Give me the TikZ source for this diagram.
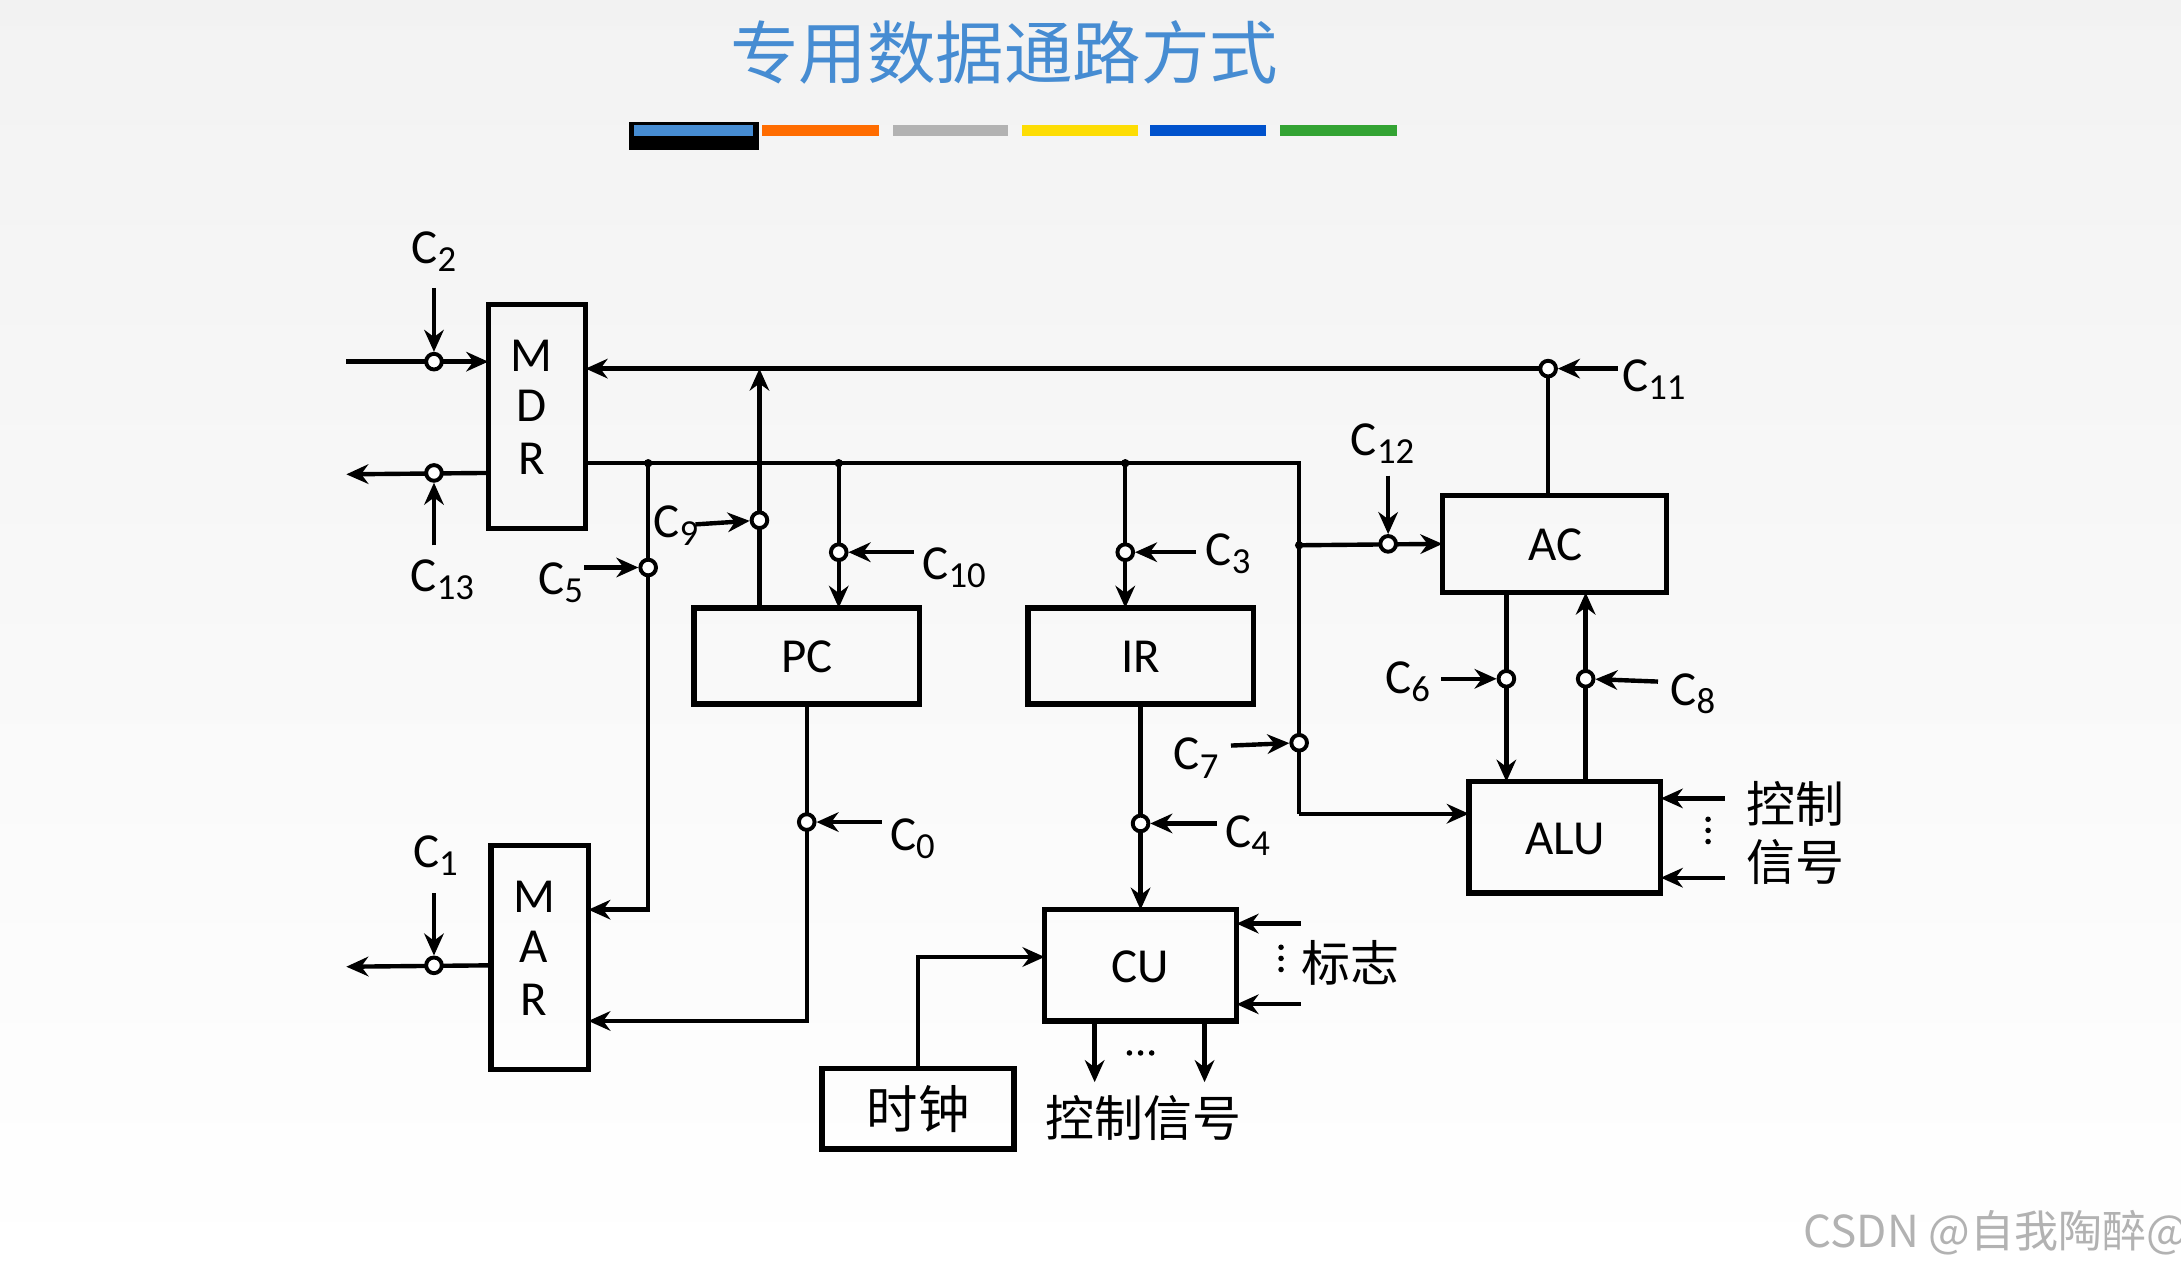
\documentclass[tikz,border=0pt]{standalone}
\usepackage{fontspec}
\setmainfont{Carlito}
\newfontfamily\cjk{Noto Sans CJK SC}
\usetikzlibrary{arrows.meta}
\newcommand\csub[1]{C\raisebox{-0.35ex}{\fontsize{7.5}{8}\selectfont #1}}
\definecolor{ttl}{RGB}{70,140,210}
\begin{document}
\begin{tikzpicture}[x=0.01cm,y=-0.01cm,
  ln/.style={line width=0.9pt},
  ar/.style={ln,-{Stealth[length=4.5pt,width=4pt]}},
  dot/.style={circle,draw,line width=0.8pt,fill=white,minimum size=3.2pt,inner sep=0pt},
  lab/.style={font=\fontsize{10}{12}\selectfont},
  zh/.style={font=\cjk\fontsize{10}{12}\selectfont}]
\useasboundingbox (0,0) rectangle (1568,914);
\shade[top color=gray!10,bottom color=white] (0,0) rectangle (1568,914);
\node[font=\cjk\fontsize{14}{17}\selectfont,text=ttl] (title) at (722,38) {专用数据通路方式};
\fill (452,88) rectangle (546,108); \fill[ttl] (456,90) rectangle (541,98);
\fill[orange!85!red] (548,90) rectangle (632,98);
\fill[gray!60] (642,90) rectangle (725,98);
\fill[yellow!80!orange] (735,90) rectangle (818,98);
\fill[blue!60!cyan!80!black] (827,90) rectangle (910,98);
\fill[green!55!black!80] (920,90) rectangle (1004,98);
% boxes
\draw[line width=1.1pt] (351,219) rectangle (421,380);
\node[lab] (mdr1) at (382,256){M}; \node[lab] at (382,292){D}; \node[lab] at (382,330){R};
\draw[line width=1.1pt] (353,608) rectangle (423,769);
\node[lab] (mar1) at (384,645){M}; \node[lab] at (384,681){A}; \node[lab] at (384,719){R};
\draw[line width=1.1pt] (499,437) rectangle (661,506); \node[lab] (pc) at (580,472){PC};
\draw[line width=1.1pt] (739,437) rectangle (901,506); \node[lab] (ir) at (820,472){IR};
\draw[line width=1.1pt] (1037,356) rectangle (1198,426); \node[lab] (ac) at (1118,392){AC};
\draw[line width=1.1pt] (1056,562) rectangle (1194,642); \node[lab] (alu) at (1125,603){ALU};
\draw[line width=1.1pt] (751,654) rectangle (889,734); \node[lab] (cu) at (820,695){CU};
\draw[line width=1.1pt] (591,768) rectangle (729,826); \node[zh,font=\cjk\fontsize{10.5}{12}\selectfont] (clk) at (660,797){时钟};
% buses
\draw[ar] (1113,356) -- (1113,265) -- (421,265);
\draw[ar] (546,437) -- (546,265);
\draw[ln] (421,333) -- (934,333) -- (934,585);
\draw[ar] (934,585) -- (1056,585);
\draw[ar] (466,333) -- (466,654) -- (423,654);
\draw[ar] (603,333) -- (603,437);
\draw[ar] (809,333) -- (809,437);
\draw[ar] (934,392) -- (1037,391);
\draw[ar] (580,506) -- (580,734) -- (423,734);
\draw[ar] (820,506) -- (820,654);
\draw[ar] (1083,426) -- (1083,562);
\draw[ar] (1140,562) -- (1140,426);
\draw[ar] (660,768) -- (660,688) -- (751,688);
\draw[ar] (249,260) -- (351,260);
\draw[ar] (351,340) -- (249,341);
\draw[ar] (353,694) -- (249,695);
\foreach \p in {(466,333),(603,333),(809,333),(934,392)} \fill \p circle (3);
% control points
\node[dot] (c11) at (1113,265){}; \draw[ar] (1163,265) -- (c11); \node[lab] at (1189,273){\csub{11}};
\node[dot] (c9) at (546,374){}; \draw[ar] (500,377) -- (c9); \node[lab] at (486,378){\csub{9}};
\node[dot] (c5) at (466,408){}; \draw[ar] (420,408) -- (c5); \node[lab] at (403,419){\csub{5}};
\node[dot] (c10) at (603,397){}; \draw[ar] (657,397) -- (c10); \node[lab] at (686,408){\csub{10}};
\node[dot] (c3) at (809,397){}; \draw[ar] (860,397) -- (c3); \node[lab] at (883,398){\csub{3}};
\node[dot] (c12) at (998,391){}; \draw[ar] (998,342) -- (c12); \node[lab] at (994,319){\csub{12}};
\node[dot] (c7) at (934,534){}; \draw[ar] (885,536) -- (c7); \node[lab] at (860,545){\csub{7}};
\node[dot] (c0) at (580,591){}; \draw[ar] (634,591) -- (c0); \node[lab] at (656,603){\csub{0}};
\node[dot] (c4) at (820,592){}; \draw[ar] (875,592) -- (c4); \node[lab] at (897,601){\csub{4}};
\node[dot] (c6) at (1083,488){}; \draw[ar] (1036,488) -- (c6); \node[lab] at (1012,490){\csub{6}};
\node[dot] (c8) at (1140,488){}; \draw[ar] (1192,490) -- (c8); \node[lab] at (1217,499){\csub{8}};
\node[dot] (c2) at (312,260){}; \draw[ar] (312,207) -- (c2); \node[lab] at (312,181){\csub{2}};
\node[dot] (c13) at (312,340){}; \draw[ar] (312,392) -- (c13); \node[lab] at (318,417){\csub{13}};
\node[dot] (c1) at (312,694){}; \draw[ar] (312,642) -- (c1); \node[lab] at (313,615){\csub{1}};
% ALU control
\draw[ar] (1240,574) -- (1194,574); \draw[ar] (1240,631) -- (1194,631);
\foreach \y in {589,597,605} \fill (1228,\y) circle (2);
\node[zh] (ctl1) at (1291,578){控制}; \node[zh] at (1291,620){信号};
% CU flags
\draw[ar] (935,664) -- (889,664); \draw[ar] (935,722) -- (889,722);
\foreach \y in {681,689,697} \fill (921,\y) circle (2);
\node[zh] (flag) at (971,692){标志};
\draw[ar] (787,734) -- (787,778); \draw[ar] (866,734) -- (866,778);
\foreach \x in {812,820,828} \fill (\x,757) circle (2);
\node[zh] (ctl2) at (822,804){控制信号};
\node[font=\cjk\fontsize{9}{10}\selectfont,text=gray!60] (csdn) at (1435,886){CSDN @自我陶醉@};
\end{tikzpicture}
\end{document}
